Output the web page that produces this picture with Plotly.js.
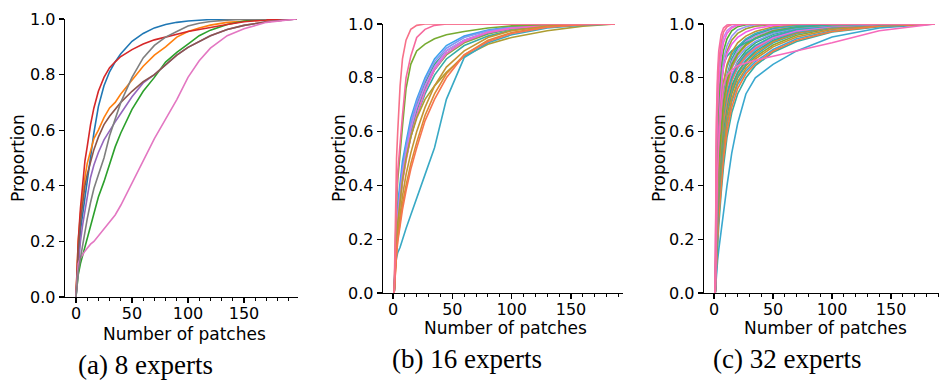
<!DOCTYPE html>
<html>
<head>
<meta charset="utf-8">
<script src="https://cdn.plot.ly/plotly-3.0.1.min.js"></script>
<style>
html,body{margin:0;padding:0;background:#fff;}
#chart{width:940px;height:381px;}
</style>
</head>
<body>
<div id="chart"></div>
<script>
// ---------- shared tick labels ----------
const xTicks = [0, 50, 100, 150];
const yTicks = [0, 0.2, 0.4, 0.6, 0.8, 1.0];
const captions = ["(a) 8 experts", "(b) 16 experts", "(c) 32 experts"];
const xTitle = "Number of patches";
const yTitle = "Proportion";

// ---------- (a) 8 experts : x grid (number of patches) ----------
const xa = [0,1,2,4,6,8,10,13,16,20,25,30,35,40,50,60,70,80,90,100,110,120,135,150,170,197];
const a_blue   = [0,0.05,0.13,0.24,0.30,0.36,0.42,0.49,0.59,0.685,0.76,0.81,0.846,0.875,0.92,0.948,0.968,0.98,0.988,0.993,0.996,0.998,0.999,1,1,null];
const a_orange = [0,0.10,0.20,0.30,0.37,0.43,0.48,0.53,0.57,0.60,0.645,0.68,0.70,0.73,0.78,0.83,0.87,0.90,0.935,0.955,0.968,0.978,0.988,0.993,0.997,1];
const a_green  = [0,0.04,0.08,0.12,0.15,0.18,0.21,0.26,0.305,0.36,0.415,0.48,0.54,0.59,0.675,0.74,0.79,0.845,0.88,0.91,0.94,0.96,0.98,0.993,0.999,1];
const a_red    = [0,0.12,0.20,0.32,0.41,0.49,0.54,0.62,0.68,0.74,0.79,0.825,0.846,0.865,0.89,0.91,0.925,0.935,0.945,0.955,0.962,0.97,0.98,0.99,0.997,1];
const a_purple = [0,0.06,0.12,0.20,0.26,0.31,0.37,0.43,0.475,0.52,0.565,0.60,0.63,0.66,0.72,0.77,0.80,0.835,0.87,0.898,0.92,0.94,0.962,0.977,0.99,1];
const a_brown  = [0,0.10,0.17,0.27,0.34,0.40,0.44,0.49,0.53,0.575,0.62,0.65,0.675,0.70,0.74,0.775,0.80,0.835,0.87,0.898,0.92,0.94,0.962,0.977,0.99,1];
const a_pink   = [0,0.08,0.12,0.14,0.155,0.165,0.175,0.19,0.20,0.22,0.245,0.27,0.295,0.33,0.41,0.49,0.57,0.64,0.71,0.79,0.85,0.895,0.94,0.965,0.988,1];
const a_gray   = [0,0.05,0.09,0.14,0.19,0.235,0.28,0.34,0.39,0.44,0.50,0.58,0.64,0.70,0.79,0.86,0.905,0.935,0.955,0.975,0.985,0.991,0.996,0.999,1,null];
const aColors = ["#1f77b4","#ff7f0e","#2ca02c","#d62728","#9467bd","#8c564b","#e377c2","#7f7f7f"];

// ---------- (b) 16 experts ----------
const xb = [1,2,3,4,6,8,11,15,20,27,35,45,60,80,100,130,160,187];
const b01 = [0,0.12,0.20,0.26,0.35,0.42,0.50,0.58,0.66,0.74,0.81,0.87,0.92,0.955,0.977,0.993,0.999,1];
const b02 = [0,0.14,0.22,0.28,0.37,0.44,0.52,0.60,0.68,0.76,0.83,0.885,0.93,0.963,0.982,0.995,1,1];
const b03 = [0,0.16,0.25,0.31,0.40,0.47,0.55,0.63,0.70,0.78,0.85,0.90,0.94,0.97,0.985,0.996,1,1];
const b04 = [0,0.13,0.21,0.27,0.36,0.43,0.51,0.60,0.68,0.76,0.83,0.89,0.935,0.966,0.983,0.995,1,1];
const b05 = [0,0.18,0.27,0.33,0.42,0.49,0.56,0.65,0.72,0.80,0.87,0.92,0.955,0.978,0.99,0.997,1,1];
const b06 = [0,0.15,0.24,0.30,0.39,0.46,0.54,0.63,0.71,0.79,0.86,0.91,0.95,0.975,0.988,0.996,1,1];
const b07 = [0,0.14,0.22,0.28,0.37,0.44,0.52,0.61,0.69,0.77,0.84,0.90,0.94,0.97,0.985,0.995,1,1];
const b08 = [0,0.12,0.20,0.26,0.34,0.41,0.49,0.58,0.66,0.75,0.83,0.89,0.935,0.968,0.984,0.995,0.999,1];
const b09 = [0,0.12,0.20,0.26,0.35,0.42,0.50,0.58,0.65,0.72,0.77,0.82,0.88,0.925,0.95,0.975,0.992,1];
const b10 = [0,0.10,0.13,0.15,0.17,0.20,0.24,0.29,0.35,0.44,0.54,0.72,0.875,0.93,0.96,0.985,0.996,1];
const b11 = [0,0.10,0.17,0.22,0.30,0.36,0.44,0.52,0.60,0.69,0.77,0.84,0.90,0.95,0.975,0.992,0.999,1];
const b12 = [0,0.20,0.33,0.42,0.53,0.62,0.76,0.85,0.90,0.925,0.945,0.96,0.972,0.985,0.993,0.998,1,1];
const b13 = [0,0.09,0.15,0.20,0.27,0.33,0.40,0.48,0.56,0.66,0.74,0.815,0.885,0.94,0.968,0.99,0.998,1];
const b14 = [0,0.08,0.14,0.19,0.26,0.31,0.38,0.46,0.54,0.64,0.72,0.80,0.885,0.935,0.965,0.988,0.997,1];
const b15 = [0,0.20,0.35,0.45,0.57,0.66,0.80,0.88,0.95,0.98,0.995,1,1,1,1,1,1,1];
const b16 = [0,0.30,0.50,0.60,0.77,0.87,0.94,0.98,0.995,1,1,1,1,1,1,1,1,1];
const bColors = ["#36ada4","#97a431","#33b07a","#34ae91","#3ba3ec","#8197f4","#cc7af4","#f565cc",
                 "#ae9d31","#38a9c5","#c39532","#77ab31","#dc8932","#f7754f","#f6699e","#f77189"];

// ---------- (c) 32 experts ----------
const xc = [1,2,3,4,6,8,11,15,20,27,35,50,70,100,140,187];
const c01 = [0,0.60,0.78,0.86,0.93,0.97,0.99,0.998,1,1,1,1,1,1,1,1];
const c02 = [0,0.23,0.35,0.44,0.56,0.64,0.72,0.79,0.84,0.88,0.91,0.948,0.974,0.991,0.999,1];
const c03 = [0,0.12,0.20,0.28,0.40,0.50,0.60,0.69,0.76,0.815,0.852,0.90,0.94,0.972,0.992,1];
const c04 = [0,0.17,0.28,0.37,0.50,0.60,0.69,0.76,0.815,0.86,0.892,0.935,0.967,0.987,0.997,1];
const c05 = [0,0.25,0.37,0.46,0.59,0.68,0.77,0.84,0.885,0.92,0.945,0.972,0.988,0.997,1,1];
const c06 = [0,0.14,0.23,0.31,0.44,0.54,0.64,0.72,0.785,0.835,0.87,0.915,0.952,0.98,0.995,1];
const c07 = [0,0.33,0.48,0.58,0.70,0.78,0.85,0.895,0.93,0.955,0.972,0.99,0.998,1,1,1];
const c08 = [0,0.20,0.32,0.41,0.54,0.63,0.72,0.79,0.845,0.885,0.915,0.952,0.978,0.993,0.999,1];
const c09 = [0,0.38,0.54,0.64,0.76,0.84,0.90,0.94,0.965,0.982,0.992,0.998,1,1,1,1];
const c10 = [0,0.15,0.25,0.33,0.46,0.56,0.66,0.74,0.80,0.845,0.878,0.922,0.958,0.984,0.996,1];
const c11 = [0,0.26,0.39,0.49,0.62,0.71,0.79,0.85,0.89,0.925,0.948,0.975,0.99,0.998,1,1];
const c12 = [0,0.45,0.62,0.72,0.84,0.90,0.945,0.975,0.99,0.997,1,1,1,1,1,1];
const c13 = [0,0.22,0.34,0.43,0.56,0.65,0.74,0.81,0.86,0.90,0.93,0.962,0.983,0.995,1,1];
const c14 = [0,0.30,0.44,0.54,0.66,0.74,0.81,0.87,0.91,0.94,0.96,0.982,0.994,1,1,1];
const c15 = [0,0.19,0.30,0.39,0.52,0.61,0.70,0.77,0.82,0.865,0.898,0.94,0.97,0.989,0.998,1];
const c16 = [0,0.40,0.56,0.66,0.78,0.85,0.88,0.90,0.915,0.93,0.945,0.97,0.988,0.998,1,1];
const c17 = [0,0.10,0.18,0.25,0.37,0.47,0.58,0.67,0.74,0.80,0.845,0.895,0.935,0.97,0.99,1];
const c18 = [0,0.24,0.36,0.45,0.57,0.66,0.74,0.80,0.85,0.89,0.92,0.955,0.98,0.994,1,1];
const c19 = [0,0.16,0.26,0.35,0.48,0.58,0.68,0.75,0.805,0.85,0.885,0.93,0.964,0.986,0.997,1];
const c20 = [0,0.36,0.50,0.60,0.71,0.78,0.84,0.885,0.915,0.945,0.965,0.985,0.995,1,1,1];
const c21 = [0,0.07,0.12,0.16,0.23,0.30,0.40,0.52,0.63,0.74,0.80,0.85,0.90,0.952,0.985,1];
const c22 = [0,0.13,0.22,0.30,0.42,0.52,0.62,0.71,0.775,0.825,0.86,0.905,0.945,0.975,0.993,1];
const c23 = [0,0.21,0.33,0.42,0.55,0.64,0.72,0.79,0.835,0.875,0.905,0.945,0.972,0.99,0.998,1];
const c24 = [0,0.30,0.44,0.53,0.64,0.71,0.78,0.835,0.875,0.91,0.935,0.965,0.985,0.996,1,1];
const c25 = [0,0.42,0.58,0.68,0.80,0.87,0.92,0.955,0.978,0.99,0.997,1,1,1,1,1];
const c26 = [0,0.28,0.42,0.52,0.64,0.72,0.80,0.86,0.90,0.935,0.955,0.978,0.992,0.999,1,1];
const c27 = [0,0.55,0.73,0.83,0.91,0.95,0.975,0.99,0.997,1,1,1,1,1,1,1];
const c28 = [0,0.27,0.40,0.49,0.61,0.69,0.76,0.815,0.855,0.89,0.915,0.95,0.975,0.992,0.999,1];
const c29 = [0,0.40,0.56,0.66,0.77,0.84,0.89,0.925,0.95,0.97,0.983,0.995,1,1,1,1];
const c30 = [0,0.50,0.68,0.78,0.88,0.93,0.965,0.985,0.995,1,1,1,1,1,1,1];
const c31 = [0,0.30,0.45,0.56,0.69,0.77,0.81,0.83,0.845,0.855,0.865,0.88,0.90,0.93,0.975,1];
const c32 = [0,0.65,0.82,0.90,0.96,0.985,0.996,1,1,1,1,1,1,1,1,1];
const cColors = ["#f77189","#f7765f","#f67b3e","#e7832f","#d98a32","#cb9032","#bd9632","#ae9d31",
                 "#9fa131","#8ea531","#77ab31","#50b031","#32b160","#33b07a","#34af8a","#35ae98",
                 "#36ada4","#37acae","#37abb8","#38aac2","#39a8cf","#3ba5e0","#56a0f4","#7e99f4",
                 "#9a91f4","#b287f4","#c77cf4","#dd6ef4","#f45ee9","#f564d3","#f66abc","#f66ea3"];

// ---------- build traces ----------
const aSeries = [a_blue,a_orange,a_green,a_red,a_purple,a_brown,a_pink,a_gray];
const bSeries = [b01,b02,b03,b04,b05,b06,b07,b08,b09,b10,b11,b12,b13,b14,b15,b16];
const cSeries = [c01,c02,c03,c04,c05,c06,c07,c08,c09,c10,c11,c12,c13,c14,c15,c16,
                 c17,c18,c19,c20,c21,c22,c23,c24,c25,c26,c27,c28,c29,c30,c31,c32];

const traces = [];
function addSeries(xs, series, colors, ax, order) {
  const idx = order || series.map(function(_, i){return i;});
  idx.forEach(function(i){
    traces.push({
      type: 'scatter', mode: 'lines', x: xs, y: series[i],
      xaxis: ax.x, yaxis: ax.y, connectgaps: false,
      line: {color: colors[i], width: 1.6}, hoverinfo: 'skip', showlegend: false
    });
  });
}
addSeries(xa, aSeries, aColors, {x:'x', y:'y'});
addSeries(xb, bSeries, bColors, {x:'x2', y:'y2'});
const cIdx = [20,16,21,9,5,2,18,3,14,22,7,12,1,27,17,23,13,4,25,10,19,15,6,8,24,28,11,26,29,0,30,31];
addSeries(xc, cSeries, cColors, {x:'x3', y:'y3'}, cIdx);

// ---------- layout ----------
const W = 940, H = 381;
function px(v){return v / W;}
function py(v){return 1 - v / H;}
const tickFont = {family: 'DejaVu Sans, sans-serif', size: 16, color: '#000'};

function xAxis(dom, rng) {
  return {
    domain: dom, range: rng, tickvals: xTicks, ticktext: xTicks.map(String),
    showline: true, linecolor: '#000', linewidth: 1.25, ticks: 'outside', ticklen: 5, tickwidth: 1.25,
    tickcolor: '#000', showgrid: false, zeroline: false, tickfont: tickFont, fixedrange: true,
    ticklabelstandoff: -3,
    minor: {ticks: 'outside', ticklen: 3, tickwidth: 1, tickcolor: '#000', tick0: 0, dtick: 10, showgrid: false}
  };
}
function yAxis(dom, anchor) {
  return {
    domain: dom, range: [0, 1], anchor: anchor, tickvals: yTicks, tickformat: '.1f',
    showline: true, linecolor: '#000', linewidth: 1.25, ticks: 'outside', ticklen: 5, tickwidth: 1.25,
    tickcolor: '#000', showgrid: false, zeroline: false, tickfont: tickFont, fixedrange: true
  };
}

const layout = {
  width: W, height: H, margin: {l: 0, r: 0, t: 0, b: 0},
  paper_bgcolor: '#fff', plot_bgcolor: '#fff', showlegend: false,
  xaxis:  Object.assign(xAxis([px(65), px(298)], [-9.8, 198.2]), {anchor: 'y'}),
  yaxis:  yAxis([py(297), py(19)], 'x'),
  xaxis2: Object.assign(xAxis([px(383), px(623)], [-8.4, 193.8]), {anchor: 'y2'}),
  yaxis2: yAxis([py(293), py(24)], 'x2'),
  xaxis3: Object.assign(xAxis([px(704), px(939)], [-8.5, 190.6]), {anchor: 'y3'}),
  yaxis3: yAxis([py(293), py(24)], 'x3'),
  annotations: []
};

const axFont = {family: 'DejaVu Sans, sans-serif', size: 17, color: '#000'};
const capFont = {family: 'Liberation Serif, serif', size: 27, color: '#000'};
const xTitlePos = [[184, 334], [505, 328], [825, 328]];
const yTitlePos = [[18, 158], [339, 158], [659, 158]];
const capBottom = [[145, 381], [467, 375], [787, 375]];
for (let i = 0; i < 3; i++) {
  layout.annotations.push({text: xTitle, xref: 'paper', yref: 'paper', x: px(xTitlePos[i][0]), y: py(xTitlePos[i][1]),
    xanchor: 'center', yanchor: 'middle', showarrow: false, font: axFont, borderpad: 0});
  layout.annotations.push({text: yTitle, xref: 'paper', yref: 'paper', x: px(yTitlePos[i][0]), y: py(yTitlePos[i][1]),
    xanchor: 'center', yanchor: 'middle', showarrow: false, textangle: -90, font: axFont, borderpad: 0});
  layout.annotations.push({text: captions[i], xref: 'paper', yref: 'paper', x: px(capBottom[i][0]), y: py(capBottom[i][1]),
    xanchor: 'center', yanchor: 'bottom', showarrow: false, font: capFont, borderpad: 0});
}

Plotly.newPlot('chart', traces, layout, {staticPlot: true, displayModeBar: false});
</script>
</body>
</html>
